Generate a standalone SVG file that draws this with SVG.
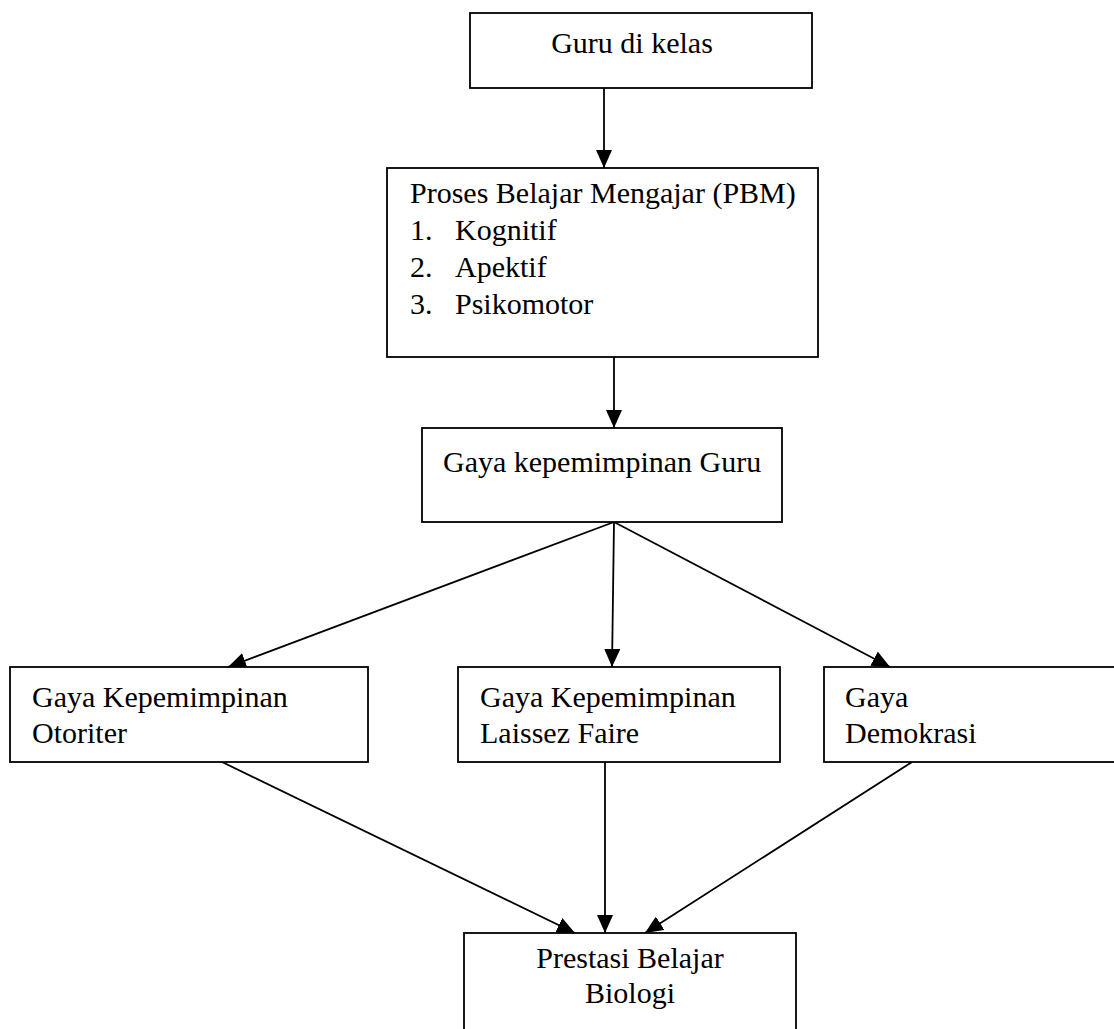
<svg xmlns="http://www.w3.org/2000/svg" width="1114" height="1029" viewBox="0 0 1114 1029">
<style>
.box{fill:#fff;stroke:#000;stroke-width:1.8}
.t{font-family:"Liberation Serif","Times New Roman",serif;font-size:30px;fill:#000}
.c line{stroke:#000;stroke-width:1.8;marker-end:url(#ah)}
</style>
<defs>
<marker id="ah" markerUnits="userSpaceOnUse" markerWidth="18" markerHeight="16" viewBox="0 0 18 16" refX="18" refY="8" orient="auto">
<path d="M0,0 L18,8 L0,16 z" fill="#000"/>
</marker>
</defs>
<rect width="1114" height="1029" fill="#fff"/>
<g class="c" id="connectors">
<line x1="604" y1="88" x2="604" y2="168"/>
<line x1="614" y1="357" x2="614" y2="428"/>
<line x1="614" y1="522" x2="228" y2="667"/>
<line x1="614" y1="522" x2="612" y2="667"/>
<line x1="614" y1="522" x2="890" y2="667"/>
<line x1="222" y1="762" x2="575" y2="933"/>
<line x1="605" y1="762" x2="605" y2="933"/>
<line x1="912" y1="762" x2="645" y2="933"/>
</g>
<g id="guru">
<rect class="box" x="470" y="13" width="342" height="75"/>
<text class="t" x="632" y="53" text-anchor="middle">Guru di kelas</text>
</g>
<g id="pbm">
<rect class="box" x="387" y="168" width="431" height="189"/>
<text class="t" x="410" y="203">Proses Belajar Mengajar (PBM)</text>
<text class="t" x="410" y="240">1.</text><text class="t" x="455" y="240">Kognitif</text>
<text class="t" x="410" y="277">2.</text><text class="t" x="455" y="277">Apektif</text>
<text class="t" x="410" y="314">3.</text><text class="t" x="455" y="314">Psikomotor</text>
</g>
<g id="gaya">
<rect class="box" x="422" y="428" width="360" height="94"/>
<text class="t" x="443" y="472">Gaya kepemimpinan Guru</text>
</g>
<g id="otoriter">
<rect class="box" x="10" y="667" width="358" height="95"/>
<text class="t" x="32" y="707">Gaya Kepemimpinan</text>
<text class="t" x="32" y="743">Otoriter</text>
</g>
<g id="laissez">
<rect class="box" x="458" y="667" width="322" height="95"/>
<text class="t" x="480" y="707">Gaya Kepemimpinan</text>
<text class="t" x="480" y="743">Laissez Faire</text>
</g>
<g id="demokrasi">
<rect class="box" x="824" y="667" width="300" height="95"/>
<text class="t" x="845" y="707">Gaya</text>
<text class="t" x="845" y="743">Demokrasi</text>
</g>
<g id="prestasi">
<rect class="box" x="464" y="933" width="332" height="120"/>
<text class="t" x="630" y="968" text-anchor="middle">Prestasi Belajar</text>
<text class="t" x="630" y="1003" text-anchor="middle">Biologi</text>
</g>
</svg>
